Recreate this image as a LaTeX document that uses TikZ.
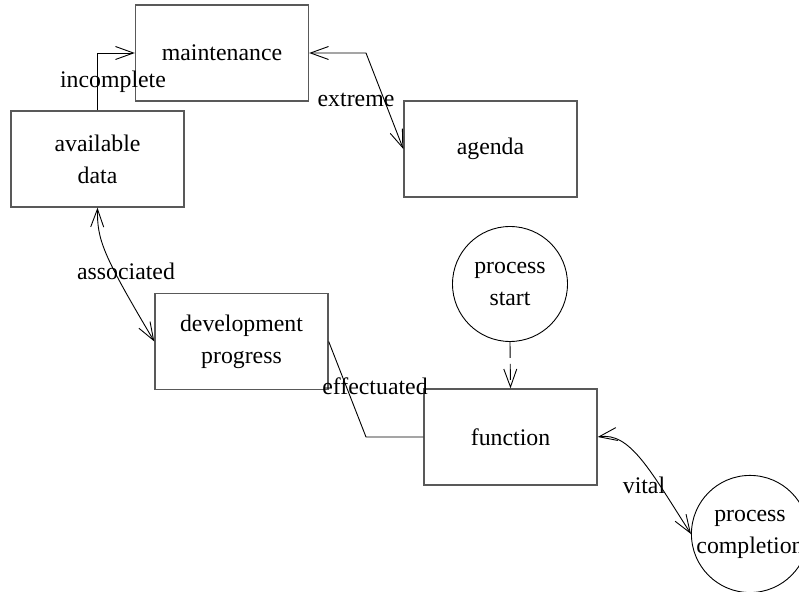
\documentclass[tikz,border=0pt]{standalone}
\usepackage{fontspec}
\setmainfont{Liberation Serif}
\usetikzlibrary{arrows.meta}
\begin{document}
\begin{tikzpicture}[x=0.5pt,y=-0.5pt,
  every node/.style={font=\fontsize{11.9}{16}\selectfont},
  box/.style={draw=black!65, line width=0.7pt, minimum width=86.5pt, minimum height=48pt, align=center, inner sep=0pt},
  circ/.style={draw=black, line width=0.45pt, circle, minimum size=57.5pt, align=center, inner sep=0pt},
  conn/.style={draw=black, line width=0.45pt},
  tip/.tip={Straight Barb[length=9pt,width=6.5pt,line width=0.45pt]},
  arr/.style={conn, -tip},
  biarr/.style={conn, tip-tip},
  lbl/.style={inner sep=0pt}]
\useasboundingbox (0,0) rectangle (799,592);
\node[box] (maint) at (222,53) {maintenance};
\node[box] (avail) at (97.5,159) {available\\data};
\node[box] (agenda) at (490.5,149) {agenda};
\node[box] (dev) at (241.5,341.5) {development\\progress};
\node[box] (func) at (510.5,437) {function};
\node[circ] (pstart) at (510,284) {process\\start};
\node[circ] (pcomp) at (750,534) {process\\completion};

\draw[arr] (avail.north) |- (maint.west);
\node[lbl] (l1) at (113,82) {incomplete};
\draw[biarr] (maint.east) -- (366,53) -- (agenda.west);
\node[lbl] (l2) at (356,100) {extreme};
\draw[biarr] (avail.south) .. controls (97,240) and (103,255) .. (dev.west);
\node[lbl] (l3) at (126,271) {associated};
\draw[conn] (dev.east) -- (366,437) -- (func.west);
\node[lbl] (l4) at (375,386) {effectuated};
\draw[arr, dash pattern=on 8pt off 3pt] (pstart.south) -- (func.north);
\draw[biarr] (func.east) .. controls (630,432) and (650,470) .. (pcomp.west);
\node[lbl] (l5) at (644,485) {vital};
\end{tikzpicture}
\end{document}
